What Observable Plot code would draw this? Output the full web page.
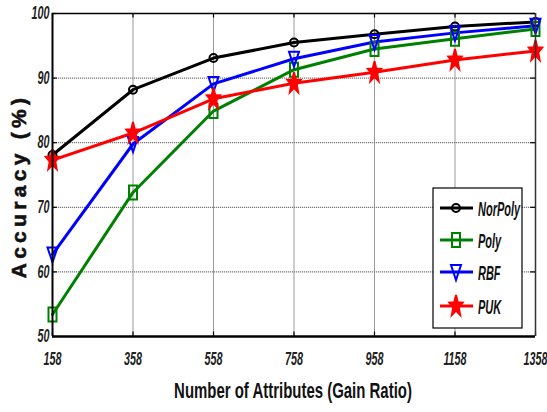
<!DOCTYPE html>
<html><head><meta charset="utf-8">
<script src="https://cdn.jsdelivr.net/npm/d3@7"></script>
<script src="https://cdn.jsdelivr.net/npm/@observablehq/plot@0.6"></script>
<style>
html,body{margin:0;padding:0;background:#fff;}
</style>
</head><body>
<div id="chart"></div>
<script>
const attributes = [158, 358, 558, 758, 958, 1158, 1358];
const norPoly = [78.1, 88.2, 93.1, 95.5, 96.8, 98.0, 98.7];
const poly    = [53.4, 72.3, 84.9, 91.3, 94.5, 96.1, 97.6];
const rbf     = [62.7, 79.8, 89.1, 93.0, 95.6, 97.0, 98.1];
const puk     = [77.3, 81.5, 86.8, 89.2, 90.9, 92.8, 94.2];
const seriesNames = ["NorPoly", "Poly", "RBF", "PUK"];
const seriesValues = [norPoly, poly, rbf, puk];
const colors = ["#000000", "#008000", "#0000ff", "#ff0000"];
const yTicks = [50, 60, 70, 80, 90, 100];
const legendWidths = [40, 23, 23, 23];

// custom (vertically elongated) marker symbols
const sym = {
  NorPoly: {draw(c){ c.moveTo(4,0); c.ellipse ? c.ellipse(0,0,4,7,0,0,2*Math.PI) : c.arc(0,0,4,0,2*Math.PI); }},
  Poly: {draw(c){ c.moveTo(-4,-7); c.lineTo(4,-7); c.lineTo(4,7); c.lineTo(-4,7); c.closePath(); }},
  RBF: {draw(c){ c.moveTo(-5,-7); c.lineTo(5,-7); c.lineTo(0,8); c.closePath(); }},
  PUK: {draw(c){
    const pts = [];
    for (let i = 0; i < 10; i++) {
      const a = -Math.PI/2 + i*Math.PI/5;
      const r = i % 2 === 0 ? 1 : 0.42;
      pts.push([Math.cos(a)*r*7, Math.sin(a)*r*11]);
    }
    c.moveTo(pts[0][0], pts[0][1]);
    for (let i = 1; i < pts.length; i++) c.lineTo(pts[i][0], pts[i][1]);
    c.closePath();
  }}
};

const data = [];
seriesNames.forEach((s, si) => attributes.forEach((a, i) => data.push({series: s, x: a, y: seriesValues[si][i]})));

const font = "'Liberation Sans',Arial,sans-serif";

const plot = Plot.plot({
  width: 547,
  height: 412,
  marginLeft: 52,
  marginRight: 12,
  marginTop: 13,
  marginBottom: 76,
  style: {fontFamily: font, background: "#fff", overflow: "visible"},
  x: {domain: [158, 1358], label: null},
  y: {domain: [50, 100], label: null},
  marks: [
    Plot.gridX(attributes, {stroke: "#9a9a9a", strokeOpacity: 1, strokeWidth: 1}),
    Plot.gridY([60, 70, 80, 90], {stroke: "#7a7a7a", strokeOpacity: 1, strokeWidth: 1.3, strokeDasharray: "1.2,0.8"}),
    Plot.ruleX(attributes, {x: d => d, y1: 100, y2: 99.3, stroke: "#000", strokeWidth: 1.2}),
    Plot.ruleX(attributes, {x: d => d, y1: 50, y2: 50.7, stroke: "#000", strokeWidth: 1.2}),
    Plot.ruleY(yTicks, {y: d => d, x1: 1358, x2: 1346, stroke: "#000", strokeWidth: 1.2}),
    Plot.ruleY(yTicks, {y: d => d, x1: 158, x2: 170, stroke: "#000", strokeWidth: 1.2}),
    Plot.line(data, {x: "x", y: "y", z: "series", stroke: d => colors[seriesNames.indexOf(d.series)], strokeWidth: 3}),
    ...seriesNames.map((s, si) => Plot.dot(data.filter(d => d.series === s), {
      x: "x", y: "y", symbol: sym[s],
      stroke: colors[si], strokeWidth: 2,
      fill: s === "PUK" ? colors[si] : "none"
    })),
    Plot.ruleY([50], {stroke: "#000", strokeWidth: 2.5}),
    Plot.ruleX([158], {stroke: "#000", strokeWidth: 2}),
    Plot.ruleY([100], {stroke: "#000", strokeWidth: 1.5}),
    Plot.ruleX([1358], {stroke: "#333", strokeWidth: 1.5}),
    Plot.axisX({ticks: attributes, tickSize: 0, tickPadding: 16, label: null, fontSize: 18, fontStyle: "italic", fontWeight: "bold", fill: "#222", tickFormat: d => String(d)}),
    Plot.axisY({ticks: yTicks, tickSize: 0, tickPadding: 3, label: null, fontSize: 18, fontStyle: "italic", fontWeight: "bold", fill: "#222"})
  ]
});

const svg = d3.select(plot);
// condense tick labels (narrow face)
svg.selectAll('g[aria-label="x-axis tick label"] text, g[aria-label="y-axis tick label"] text').each(function() {
  const t = d3.select(this);
  const tr = t.attr("transform") || "";
  t.attr("transform", tr + " scale(0.6,1)");
});

// axis titles
svg.append("text")
  .attr("transform", "translate(293,398) scale(0.68,1)")
  .attr("text-anchor", "middle")
  .style("font-family", font).style("font-weight", "bold").style("font-size", "22px")
  .attr("fill", "#111")
  .text("Number of Attributes (Gain Ratio)");
svg.append("text")
  .attr("transform", "translate(26,186) rotate(-90)")
  .attr("text-anchor", "middle")
  .style("font-family", font).style("font-weight", "bold").style("font-size", "21px")
  .style("letter-spacing", "4.3px")
  .attr("fill", "#111").attr("stroke", "#111").attr("stroke-width", 0.6)
  .text("Accuracy (%)");

// legend
const lg = svg.append("g");
lg.append("rect").attr("x", 433).attr("y", 188).attr("width", 89).attr("height", 140)
  .attr("fill", "#fff").attr("stroke", "#000").attr("stroke-width", 1.2);
const legY = [208, 240, 272, 306];
seriesNames.forEach((s, i) => {
  lg.append("line").attr("x1", 440).attr("x2", 473).attr("y1", legY[i]).attr("y2", legY[i])
    .attr("stroke", colors[i]).attr("stroke-width", 3);
  const p = d3.path(); sym[s].draw(p, 0);
  lg.append("path").attr("d", p.toString()).attr("transform", `translate(456,${legY[i]})`)
    .attr("stroke", colors[i]).attr("stroke-width", 2).attr("fill", s === "PUK" ? colors[i] : "none");
  const t = lg.append("text").attr("x", 0).attr("y", 0)
    .attr("text-anchor", "start")
    .style("font-family", font).style("font-style", "italic").style("font-weight", "bold").style("font-size", "20px")
    .attr("fill", "#111").text(s);
  const w = t.node().getComputedTextLength ? t.node().getComputedTextLength() : legendWidths[i] * 2;
  const sx = w > 0 ? legendWidths[i] / w : 0.55;
  t.attr("transform", `translate(478,${legY[i] + 8}) scale(${sx},1)`);
});

document.getElementById("chart").appendChild(plot);
</script>
</body></html>
